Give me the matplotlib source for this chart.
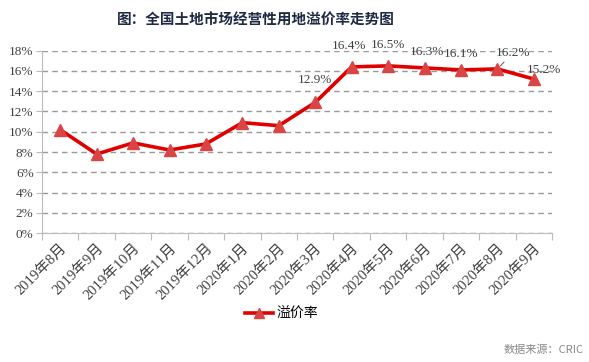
import matplotlib
matplotlib.use("Agg")
import matplotlib.pyplot as plt
import numpy as np

# data
months = ["2019年8月", "2019年9月", "2019年10月", "2019年11月", "2019年12月",
          "2020年1月", "2020年2月", "2020年3月", "2020年4月", "2020年5月",
          "2020年6月", "2020年7月", "2020年8月", "2020年9月"]
premium = [10.2, 7.8, 8.9, 8.2, 8.8, 10.9, 10.6, 12.9, 16.4, 16.5, 16.3, 16.1, 16.2, 15.2]
labelled = [7, 8, 9, 10, 11, 12, 13]
# label offsets in points (dx, dy)
label_offsets = {7: (0, 12), 8: (-2, 11), 9: (0, 11), 10: (2, 7), 11: (0, 7), 12: (11, 7), 13: (7, 2)}
with_leader = [12, 13]

serif = ["Liberation Serif", "Noto Sans CJK SC"]
cjk = ["Noto Sans CJK SC", "DejaVu Sans"]

fig = plt.figure(figsize=(5.89, 3.62), dpi=100)
ax = fig.add_axes([0.0713, 0.356, 0.866, 0.504])

x = np.arange(len(months))
ax.plot(x, premium, color="#E00000", lw=2.6, marker="^", ms=8,
        mfc="#D94545", mec="#D94545", label="溢价率", zorder=3)

for i in labelled:
    dx, dy = label_offsets[i]
    arrow = dict(arrowstyle="-", color="#404040", lw=0.6, shrinkA=0, shrinkB=3) if i in with_leader else None
    ax.annotate(f"{premium[i]:.1f}%", (x[i], premium[i]), xytext=(dx, dy),
                textcoords="offset points", ha="center", va="bottom",
                fontsize=9.5, family=serif, color="#404040", arrowprops=arrow)

ax.set_xlim(-0.5, len(months) - 0.5)
ax.set_ylim(0, 18)
ax.set_yticks(np.arange(0, 19, 2))
ax.set_yticklabels([f"{v}%" for v in range(0, 19, 2)], family=serif, fontsize=9.5, color="#404040")
ax.yaxis.grid(True, ls=(0, (4, 3)), color="#999999", lw=1)
ax.set_axisbelow(True)

ax.set_xticks(np.arange(-0.5, len(months), 1))
ax.set_xticklabels([])
ax.set_xticks(x, minor=True)
ax.set_xticklabels(months, minor=True, rotation=45, ha="right", va="top",
                   rotation_mode="anchor", family=serif, fontsize=10.5, color="#404040")
ax.tick_params(axis="x", which="major", length=5, color="#BBBBBB")
ax.tick_params(axis="x", which="minor", length=0, pad=6)
ax.tick_params(axis="y", length=4, color="#BBBBBB", pad=2)

for s in ["top", "right"]:
    ax.spines[s].set_visible(False)
ax.spines["left"].set_color("#BBBBBB")
ax.spines["bottom"].set_color("#BBBBBB")

fig.text(0.435, 0.945, "图：全国土地市场经营性用地溢价率走势图", ha="center", va="center",
         fontsize=10.5, fontweight="bold", family=cjk, color="#1F2A44")
ax.legend(loc="center", bbox_to_anchor=(0.47, -0.44), frameon=False,
          prop={"family": cjk, "size": 10}, handlelength=2.0, handletextpad=0.3,
          markerscale=0.85)
fig.text(0.99, 0.035, "数据来源：CRIC", ha="right", va="center",
         fontsize=8, family=cjk, color="#888888")

fig.savefig("out.png", dpi=100)
